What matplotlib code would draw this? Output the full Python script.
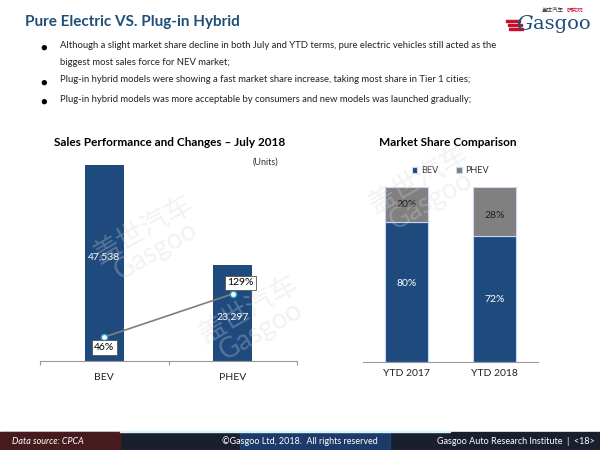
import numpy as np
from matplotlib import pyplot as plt
from matplotlib.patches import Rectangle

plt.rcParams['font.family'] = ['Lato', 'Noto Sans CJK SC', 'DejaVu Sans']

# left chart: July 2018 sales and growth
types = ['BEV', 'PHEV']
sales = [47538, 23297]
growth = [46, 129]

# right chart: market share
periods = ['YTD 2017', 'YTD 2018']
bev_share = [80, 72]
phev_share = [20, 28]

bullets = [
    'Although a slight market share decline in both July and YTD terms, pure electric vehicles still acted as the\nbiggest most sales force for NEV market;',
    'Plug-in hybrid models were showing a fast market share increase, taking most share in Tier 1 cities;',
    'Plug-in hybrid models was more acceptable by consumers and new models was launched gradually;',
]

BLUE = '#1f4a7e'
GREY = '#808080'
TITLE_BLUE = '#1f4e79'
W, H = 600, 450


def px_axes(fig, x0, y0, x1, y1):
    # pixel box (top-left origin) -> figure axes
    return fig.add_axes([x0 / W, (H - y1) / H, (x1 - x0) / W, (y1 - y0) / H])


fig = plt.figure(figsize=(6, 4.5), dpi=100)

# header
fig.text(25 / W, 1 - 22 / H, 'Pure Electric VS. Plug-in Hybrid', fontsize=11, fontweight='bold',
         color=TITLE_BLUE, va='center')
fig.text(591 / W, 1 - 24 / H, 'asgoo', fontsize=14, color=TITLE_BLUE, family='DejaVu Serif',
         ha='right', va='center')
fig.text(525 / W, 1 - 24 / H, 'G', fontsize=15, color=TITLE_BLUE, family='DejaVu Serif',
         ha='center', va='center', style='italic')
fig.text(564 / W, 1 - 10 / H, '盖世汽车', fontsize=4, color='#333333', ha='right', va='center')
fig.text(567 / W, 1 - 10 / H, '研究院', fontsize=4, color='#c8102e', ha='left', va='center')
for i in range(3):
    fig.add_artist(Rectangle(((506 + i * 1.5) / W, 1 - (22 + i * 4) / H), 14 / W, 2 / H, color='#c8102e',
                             transform=fig.transFigure))

ys = [47, 82, 101]
for y, b in zip(ys, bullets):
    fig.text(40 / W, 1 - y / H, '●', fontsize=8, va='center', color='black')
    fig.text(60 / W, 1 - (y - 6.5) / H, b, fontsize=6.8, va='top', color='#222222', linespacing=2.2)

# watermarks
for wx, wy in [(150, 240), (255, 320), (425, 190)]:
    fig.text(wx / W, 1 - wy / H, '盖世汽车\nGasgoo', fontsize=20, color='#d4d4d4', alpha=0.3,
             rotation=30, ha='center', va='center', linespacing=0.9, zorder=0)

# left chart
ax = px_axes(fig, 40, 155, 297, 361)
ax.patch.set_alpha(0)
x = np.arange(len(types))
ax.bar(x, sales, width=0.30, color=BLUE, zorder=2)
for xi, v in zip(x, sales):
    ax.text(xi, v / 2 - [-1500, 1000][xi], f'{v:,}', color='white', ha='center', va='center', fontsize=7.5,
            zorder=4)
ax.set_xlim(-0.5, 1.5)
ax.set_ylim(0, 50000)
ax.set_yticks([])
ax.set_xticks([-0.5, 0.5, 1.5])
ax.set_xticklabels([])
ax.tick_params(axis='x', length=3, color='#999999')
for s in ['top', 'right', 'left']:
    ax.spines[s].set_visible(False)
ax.spines['bottom'].set_color('#999999')
for xi, t in zip(x, types):
    ax.text(xi, -2800, t, ha='center', va='top', fontsize=7.5, color='#222222')

ax2 = ax.twinx()
ax2.plot(x, growth, color='#7f7f7f', lw=1.2, marker='o', ms=4.5, mfc='white', mec='#2f9fd0', mew=1, zorder=3)
ax2.set_ylim(0, 396)
ax2.axis('off')
box = dict(boxstyle='square,pad=0.25', fc='white', ec='#555555', lw=0.6)
ax2.text(x[0], growth[0] - 20, f'{growth[0]}%', ha='center', va='center', fontsize=7.5, bbox=box)
ax2.text(x[1] + 0.06, growth[1] + 21, f'{growth[1]}%', ha='center', va='center', fontsize=7.5, bbox=box)

fig.text(170 / W, 1 - 142 / H, 'Sales Performance and Changes – July 2018', fontsize=8.5, fontweight='bold',
         ha='center', va='center')
fig.text(265 / W, 1 - 162 / H, '(Units)', fontsize=6.5, ha='center', va='center', color='#333333')

# right chart
bx = px_axes(fig, 363, 187, 538, 362)
bx.patch.set_alpha(0)
x2 = np.arange(len(periods))
bx.bar(x2, bev_share, width=0.49, color=BLUE, edgecolor='#c6d9f0', lw=0.8, label='BEV')
bx.bar(x2, phev_share, bottom=bev_share, width=0.49, color=GREY, edgecolor='#c6d9f0', lw=0.8, label='PHEV')
for xi, b, p in zip(x2, bev_share, phev_share):
    bx.text(xi, b / 2 + [5, 0][xi], f'{b}%', ha='center', va='center', color='white', fontsize=7.5)
    bx.text(xi, b + p / 2 + [0, -2][xi], f'{p}%', ha='center', va='center', color='#222222', fontsize=7.5)
    bx.text(xi, -4, periods[xi], ha='center', va='top', fontsize=7.5, color='#222222')
bx.set_xlim(-0.5, 1.5)
bx.set_ylim(0, 100)
bx.set_xticks([])
bx.set_yticks([])
for s in ['top', 'right', 'left']:
    bx.spines[s].set_visible(False)
bx.spines['bottom'].set_color('#999999')
leg = bx.legend(loc='lower center', bbox_to_anchor=(0.5, 1.02), ncol=2, frameon=False, fontsize=6.5,
                handlelength=0.6, handleheight=0.6, handletextpad=0.4, columnspacing=2.0,
                labelcolor='#333333')
fig.text(448 / W, 1 - 142 / H, 'Market Share Comparison', fontsize=8.5, fontweight='bold',
         ha='center', va='center')

# footer
fig.add_artist(Rectangle((0, 0), 1, 18 / H, color='#1a1f2e', transform=fig.transFigure))
fig.add_artist(Rectangle((0, 0), 0.2, 18 / H, color='#5a1a1a', alpha=0.7, transform=fig.transFigure))
fig.add_artist(Rectangle((0.4, 0), 0.25, 18 / H, color='#1f4f8f', alpha=0.6, transform=fig.transFigure))
fig.add_artist(Rectangle((0.2, 18 / H), 0.55, 1.5 / H, color='#d7f3fb', transform=fig.transFigure))
fig.text(12 / W, 9 / H, 'Data source: CPCA', color='white', fontsize=6.5, style='italic', va='center')
fig.text(300 / W, 9 / H, '©Gasgoo Ltd, 2018.  All rights reserved', color='white', fontsize=6.5,
         ha='center', va='center')
fig.text(595 / W, 9 / H, 'Gasgoo Auto Research Institute  |  <18>', color='white', fontsize=6.5,
         ha='right', va='center')

plt.savefig('out.png', dpi=100)
